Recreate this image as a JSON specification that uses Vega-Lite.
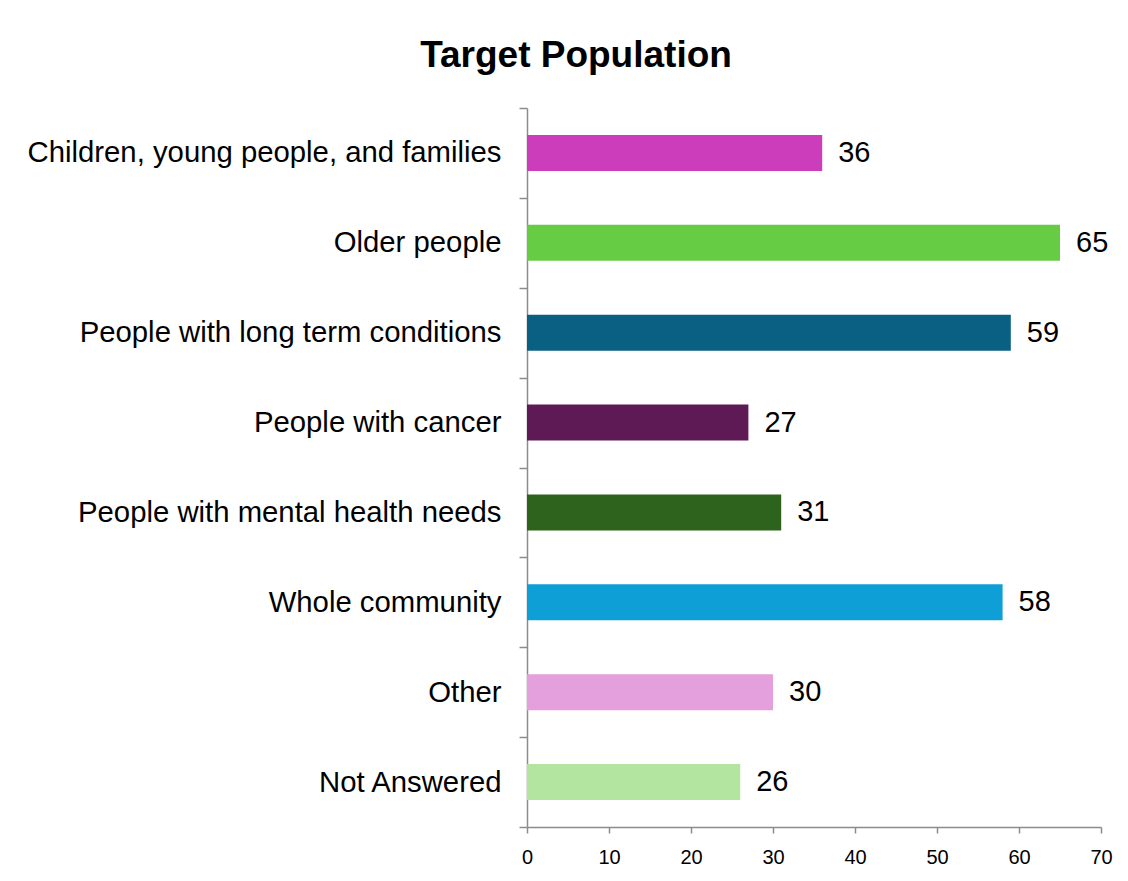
{
  "$schema": "https://vega.github.io/schema/vega-lite/v6.json",
  "width": 574,
  "height": 719,
  "autosize": {"type": "none"},
  "padding": {"left": 527, "top": 108, "right": 27, "bottom": 54},
  "background": "white",
  "title": {
    "text": "Target Population",
    "font": "Liberation Sans",
    "fontSize": 37,
    "fontWeight": "bold",
    "color": "black",
    "anchor": "middle",
    "frame": "group",
    "dx": -238,
    "baseline": "alphabetic",
    "offset": -10
  },
  "config": {
    "view": {"stroke": null},
    "font": "Liberation Sans"
  },
  "data": {
    "values": [
      {"category": "Children, young people, and families", "count": 36},
      {"category": "Older people", "count": 65},
      {"category": "People with long term conditions", "count": 59},
      {"category": "People with cancer", "count": 27},
      {"category": "People with mental health needs", "count": 31},
      {"category": "Whole community", "count": 58},
      {"category": "Other", "count": 30},
      {"category": "Not Answered", "count": 26}
    ]
  },
  "encoding": {
    "y": {
      "field": "category",
      "type": "nominal",
      "sort": null,
      "scale": {"paddingInner": 0, "paddingOuter": 0},
      "axis": {
        "title": null,
        "tickBand": "extent",
        "tickSize": 8,
        "tickColor": "#8c8c8c",
        "domainColor": "#8c8c8c",
        "tickWidth": 1.5,
        "domainWidth": 1.5,
        "labelFontSize": 29.3,
        "labelColor": "black",
        "labelFont": "Liberation Sans",
        "labelPadding": 18,
        "labelLimit": 600
      }
    },
    "x": {
      "field": "count",
      "type": "quantitative",
      "scale": {"domain": [0, 70], "nice": false},
      "axis": {
        "title": null,
        "values": [0, 10, 20, 30, 40, 50, 60, 70],
        "grid": false,
        "labelFlush": false,
        "tickSize": 6,
        "tickColor": "#8c8c8c",
        "domainColor": "#8c8c8c",
        "tickWidth": 1.5,
        "domainWidth": 1.5,
        "labelFontSize": 20,
        "labelColor": "black",
        "labelFont": "Liberation Sans",
        "labelPadding": 14
      }
    }
  },
  "layer": [
    {
      "mark": {"type": "bar", "height": {"band": 0.4}},
      "encoding": {
        "color": {
          "field": "category",
          "type": "nominal",
          "legend": null,
          "scale": {
            "domain": ["Children, young people, and families", "Older people", "People with long term conditions", "People with cancer", "People with mental health needs", "Whole community", "Other", "Not Answered"],
            "range": ["#cc3dbb", "#66cc44", "#0a6083", "#5e1a54", "#2e631e", "#0e9fd6", "#e49fdd", "#b3e4a0"]
          }
        }
      }
    },
    {
      "mark": {"type": "text", "align": "left", "baseline": "middle", "dx": 16, "fontSize": 29, "font": "Liberation Sans", "color": "black"},
      "encoding": {"text": {"field": "count", "type": "quantitative"}}
    }
  ]
}
